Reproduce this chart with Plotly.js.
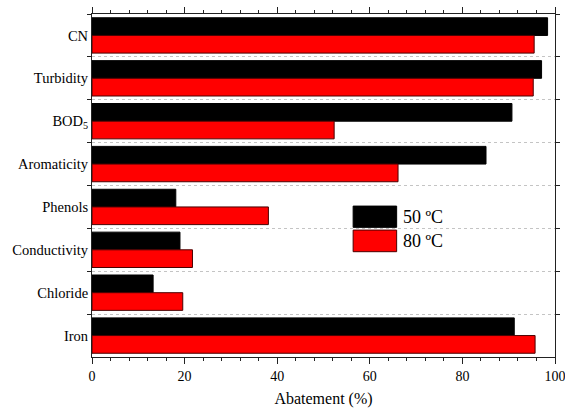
<!DOCTYPE html>
<html>
<head>
<meta charset="utf-8">
<script src="https://cdn.plot.ly/plotly-3.0.1.min.js"></script>
<style>
  html, body { margin: 0; padding: 0; background: #fff; }
  #chart { width: 565px; height: 409px; }
</style>
</head>
<body>
<div id="chart"></div>
<script>
// Parameters, top to bottom
const categories = ['CN', 'Turbidity', 'BOD<sub>5</sub>', 'Aromaticity', 'Phenols', 'Conductivity', 'Chloride', 'Iron'];
// Abatement (%) at each temperature
const abatement50 = [98.4, 97.1, 90.7, 85.1, 18.1, 19.0, 13.2, 91.2];
const abatement80 = [95.5, 95.3, 52.3, 66.1, 38.1, 21.7, 19.6, 95.7];
const seriesNames = ['50 ºC', '80 ºC'];
const xTicks = [0, 20, 40, 60, 80, 100];

const colors = ['#000000', '#ff0000'];
const edgeColors = ['#000000', '#4a0000'];
const serifFont = '"Liberation Serif", "Times New Roman", serif';

const traces = [abatement50, abatement80].map((vals, i) => ({
  type: 'bar',
  orientation: 'h',
  y: categories,
  x: vals,
  name: seriesNames[i],
  marker: { color: colors[i], line: { color: edgeColors[i], width: 1 } },
  hoverinfo: 'x+y'
}));

// Hand-drawn key: large swatches with labels inside the plot area
const keyX0 = 0.564, keyX1 = 0.658;
const keyRows = [[0.378, 0.440], [0.307, 0.370]];
const shapes = keyRows.map((r, i) => ({
  type: 'rect', xref: 'paper', yref: 'paper',
  x0: keyX0, x1: keyX1, y0: r[0], y1: r[1],
  fillcolor: colors[i], line: { color: edgeColors[i], width: 1 }
}));
const annotations = keyRows.map((r, i) => ({
  xref: 'paper', yref: 'paper', x: 0.668, y: (r[0] + r[1]) / 2,
  xanchor: 'left', yanchor: 'middle', showarrow: false,
  text: seriesNames[i],
  font: { family: serifFont, size: 18, color: '#000' }
}));

const layout = {
  width: 565, height: 409,
  margin: { l: 92, r: 10, t: 14, b: 52 },
  paper_bgcolor: '#fff', plot_bgcolor: '#fff',
  barmode: 'group', bargap: 0.175, bargroupgap: 0,
  showlegend: false,
  font: { family: serifFont, size: 14, color: '#000' },
  xaxis: {
    range: [0, 100],
    tickvals: xTicks,
    ticktext: xTicks.map(String),
    ticklabeloverflow: 'allow',
    ticks: 'outside', ticklen: 6, tickwidth: 1, tickcolor: '#222',
    minor: { dtick: 4, ticks: 'outside', ticklen: 3, tickcolor: '#222', showgrid: false },
    showline: true, linecolor: '#222', linewidth: 1, mirror: 'ticks',
    showgrid: false, zeroline: false,
    tickfont: { family: serifFont, size: 14, color: '#000' },
    title: { text: 'Abatement (%)', font: { family: serifFont, size: 16, color: '#000' }, standoff: 10 }
  },
  yaxis: {
    type: 'category',
    autorange: 'reversed',
    tickson: 'boundaries',
    ticks: 'outside', ticklen: 4, tickwidth: 1, tickcolor: '#222',
    showline: true, linecolor: '#222', linewidth: 1, mirror: 'ticks',
    showgrid: true, gridcolor: '#c4c4c4', griddash: 'dot', gridwidth: 1,
    zeroline: false,
    tickfont: { family: serifFont, size: 14.5, color: '#000' }
  },
  shapes: shapes,
  annotations: annotations
};

Plotly.newPlot('chart', traces, layout, { displayModeBar: false, staticPlot: true });
</script>
</body>
</html>
